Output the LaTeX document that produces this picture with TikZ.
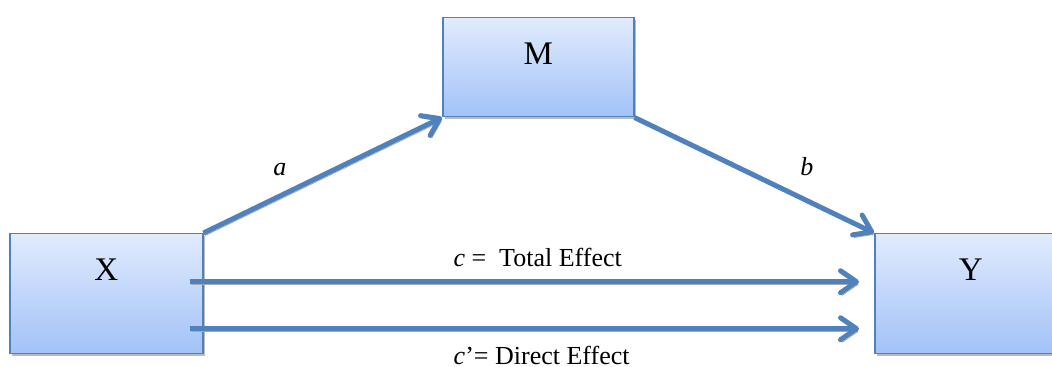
\documentclass[tikz,border=0pt]{standalone}
\usepackage{fontspec}
\setmainfont{Liberation Serif}
\usetikzlibrary{arrows.meta,shadows}

\definecolor{pathblue}{RGB}{79,129,189}
\definecolor{boxtop}{RGB}{225,235,253}
\definecolor{boxbot}{RGB}{162,194,248}
\definecolor{shadowgray}{RGB}{170,170,170}

\tikzset{
  varbox/.style={draw=pathblue,line width=0.75pt,top color=boxtop,bottom color=boxbot,
    anchor=north west,inner sep=0pt,text height=23.5pt,
    font=\fontsize{16.5}{20}\selectfont,
    drop shadow={shadow xshift=1pt,shadow yshift=-1.3pt,fill=shadowgray,opacity=0.8}},
  effect/.style={draw=pathblue,line width=2.5pt,
    -{Straight Barb[length=8pt,width=11pt,round]},
    preaction={draw=shadowgray,transform canvas={xshift=0.8pt,yshift=-1.3pt}}},
  coef/.style={font=\fontsize{13}{15}\selectfont,inner sep=0pt}
}

\begin{document}
\begin{tikzpicture}[x=0.5pt,y=-0.5pt]
  \useasboundingbox (0,0) rectangle (1052,367);

  \node[varbox,minimum width=96.5pt,text depth=36.5pt] (X) at (9,233) {X};
  \node[varbox,minimum width=95.5pt,text depth=26pt] (M) at (442,17) {M};
  \node[varbox,minimum width=96pt,text depth=36.5pt] (Y) at (874,233) {Y};

  \draw[effect] (X.north east) -- node[coef,pos=0.32,yshift=13.5pt] {\textit{a}} (M.south west);
  \draw[effect] (M.south east) -- node[coef,pos=0.72,yshift=17pt] {\textit{b}} (Y.north west);
  \draw[effect] ([xshift=-7pt,yshift=6pt]X.east) --
    node[coef,above,pos=0.52,yshift=6pt] {\textit{c} =~ Total Effect}
    ([xshift=-7.5pt,yshift=6pt]Y.west);
  \draw[effect] ([xshift=-7pt,yshift=-17.5pt]X.east) --
    node[coef,below,pos=0.526,yshift=-7.5pt] {\textit{c}’= Direct Effect}
    ([xshift=-7.5pt,yshift=-17.5pt]Y.west);
\end{tikzpicture}
\end{document}
